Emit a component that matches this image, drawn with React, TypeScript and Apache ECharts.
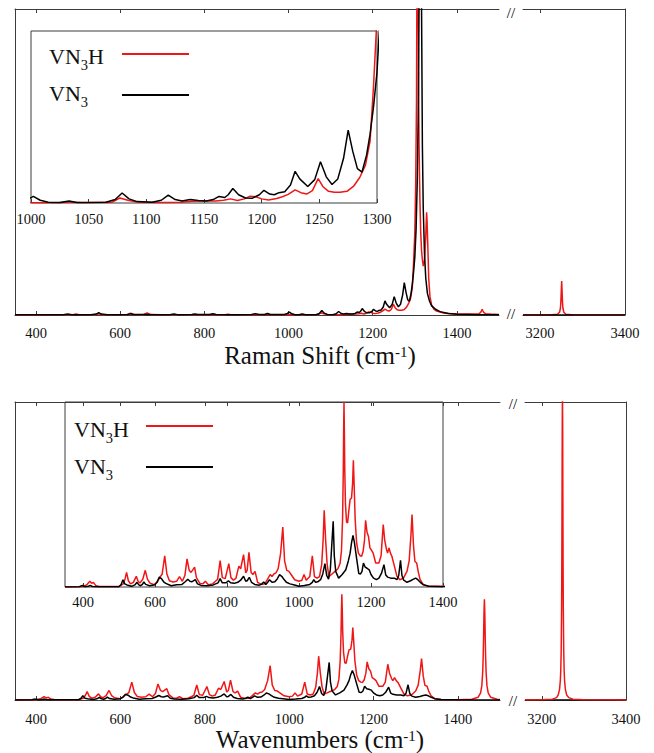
import React, { useEffect, useRef } from 'react';
import * as echarts from 'echarts';

const FONT = 'Liberation Serif, Times New Roman, serif';
const RED = '#f01616';
const BLACK = '#000000';
const AXIS = '#3c3c3c';
const TEXT = '#111111';

// tick labels
const mainTicks = [400, 600, 800, 1000, 1200, 1400];
const highTicks = [3200, 3400];
const ramanInsetTicks = [1000, 1050, 1100, 1150, 1200, 1250, 1300];
const irInsetTicks = [400, 600, 800, 1000, 1200, 1400];

// Raman spectrum, VN3H (red), 350-1500 cm-1
const ramanRed: number[][] = [
  [350, 0.03], [480, 0.05], [488, 0.1], [495, 0.3], [502, 0.1], [540, 0.1], [549, 0.4], [556, 0.1],
  [615, 0.1], [625, 0.55], [633, 0.1], [655, 0.1], [664, 0.65], [672, 0.1], [850, 0.08], [856, 0.25],
  [862, 0.08], [1000, 0.05], [1025, 0.05], [1030, 0.15], [1036, 0.1], [1045, 0.05], [1070, 0.1],
  [1077, 0.73], [1084, 0.4], [1092, 0.15], [1110, 0.08], [1130, 0.1], [1140, 0.25], [1150, 0.3],
  [1160, 0.3], [1167, 0.4], [1173, 0.6], [1179, 0.35], [1185, 0.6], [1190, 1.0], [1195, 0.9],
  [1200, 0.6], [1206, 0.45], [1213, 0.65], [1218, 0.9], [1223, 1.25], [1229, 1.9], [1234, 1.5],
  [1239, 1.3], [1244, 1.8], [1249, 3.55], [1253, 2.4], [1258, 1.7], [1263, 1.55], [1268, 1.55],
  [1274, 1.7], [1280, 2.5], [1285, 3.7], [1290, 5.5], [1294, 9], [1297, 17], [1300, 27], [1302, 42],
  [1304, 70], [1305, 110], [1306, 150], [1307, 135], [1308, 100], [1309, 75], [1310, 56], [1312, 38],
  [1314, 27], [1316, 21], [1318, 18], [1320, 16], [1322, 17], [1324, 20], [1326, 26], [1327, 30],
  [1328, 33.6], [1329, 31], [1331, 22], [1333, 12], [1336, 6], [1340, 3.2], [1345, 2], [1350, 1.4],
  [1370, 0.6], [1400, 0.3], [1440, 0.3], [1452, 0.45], [1456, 0.8], [1458, 1.3], [1460, 1.85],
  [1462, 1.3], [1464, 0.8], [1468, 0.45], [1480, 0.3], [1500, 0.2],
];

// Raman spectrum, VN3 (black), 350-1500 cm-1
const ramanBlack: number[][] = [
  [350, 0.05], [400, 0.05], [465, 0.08], [475, 0.3], [485, 0.08], [530, 0.1], [543, 0.3], [549, 0.75],
  [555, 0.3], [570, 0.1], [600, 0.1], [618, 0.2], [625, 0.4], [632, 0.15], [660, 0.15], [700, 0.1],
  [720, 0.15], [728, 0.3], [736, 0.12], [770, 0.15], [777, 0.35], [785, 0.15], [812, 0.15], [820, 0.4],
  [828, 0.15], [870, 0.1], [912, 0.15], [921, 0.45], [930, 0.15], [943, 0.15], [950, 0.5], [957, 0.15],
  [990, 0.2], [997, 0.5], [1002, 0.95], [1008, 0.4], [1015, 0.1], [1025, 0.08], [1033, 0.3], [1040, 0.08],
  [1065, 0.1], [1073, 0.5], [1079, 1.45], [1085, 0.6], [1092, 0.2], [1105, 0.1], [1113, 0.4], [1119, 1.15],
  [1125, 0.5], [1131, 0.3], [1138, 0.5], [1145, 0.35], [1152, 0.3], [1158, 0.5], [1163, 0.95], [1168, 0.8],
  [1171, 1.2], [1175, 2.1], [1180, 1.2], [1186, 0.72], [1192, 0.7], [1198, 1.2], [1202, 1.85], [1207, 1.3],
  [1211, 1.2], [1215, 1.5], [1220, 1.65], [1225, 2.6], [1229, 4.6], [1233, 3.5], [1240, 2.4], [1246, 3.4],
  [1251, 6.0], [1256, 3.8], [1261, 2.7], [1266, 3.5], [1271, 6.5], [1275, 10.6], [1279, 7.5], [1283, 5.0],
  [1287, 4.5], [1291, 7], [1294, 10], [1297, 14], [1300, 19], [1303, 28], [1306, 45], [1308, 65],
  [1310, 100], [1311, 125], [1312, 150], [1313, 165], [1314, 150], [1315, 125], [1316, 100], [1318, 55],
  [1320, 35], [1323, 20], [1326, 12], [1330, 7], [1335, 4.5], [1340, 3], [1350, 1.8], [1360, 1.1],
  [1380, 0.5], [1400, 0.25], [1450, 0.12], [1500, 0.08],
];

// Raman, 3160-3400 cm-1
const ramanRedHigh: number[][] = [
  [3160, 0.01], [3220, 0.03], [3241, 0.24], [3246, 0.9], [3248, 2.2], [3249, 4.0], [3250, 7.7],
  [3251, 11.1], [3252, 7.7], [3253, 4.0], [3254, 2.2], [3256, 0.9], [3261, 0.24], [3281, 0.03], [3400, 0.01],
];
const ramanBlackHigh: number[][] = [[3160, 0], [3400, 0]];

// IR spectrum, VN3H (red), 350-1500 cm-1
const irRed: number[][] = [
  [350, 0.05], [400, 0.1], [410, 0.4], [419, 1.1], [424, 0.7], [429, 0.9], [435, 0.3], [445, 0.1],
  [500, 0.1], [512, 0.6], [517, 1.6], [521, 2.8], [526, 1.2], [532, 0.6], [540, 0.9], [548, 2.05],
  [553, 1.1], [558, 0.75], [566, 1.5], [573, 3.2], [579, 1.5], [586, 0.75], [598, 0.45], [606, 0.9],
  [612, 1.7], [620, 2.5], [627, 6.0], [633, 2.5], [640, 1.2], [650, 0.95], [660, 1.1], [668, 2.0],
  [676, 1.1], [683, 2.2], [689, 5.4], [695, 3.2], [700, 2.8], [705, 3.3], [710, 3.8], [715, 1.8],
  [725, 0.65], [733, 0.6], [740, 1.1], [748, 0.45], [760, 0.6], [768, 1.1], [774, 1.5], [781, 5.05],
  [787, 1.8], [795, 1.6], [805, 4.5], [811, 1.8], [818, 1.3], [825, 1.7], [830, 3.2], [833, 4.0],
  [838, 3.5], [846, 6.2], [852, 2.7], [856, 3.2], [861, 6.65], [867, 2.8], [872, 2.4], [878, 3.0],
  [885, 0.9], [895, 0.5], [905, 0.6], [912, 1.4], [920, 2.4], [925, 2.0], [930, 2.5], [936, 2.7],
  [942, 3.5], [949, 6.5], [955, 11.5], [960, 5.0], [966, 3.2], [972, 3.0], [978, 2.4], [988, 1.4],
  [1000, 1.1], [1008, 1.3], [1014, 2.4], [1020, 1.3], [1030, 2.0], [1037, 6.0], [1043, 2.0], [1050, 1.7],
  [1057, 2.0], [1063, 4.3], [1067, 9], [1070, 14.7], [1074, 9], [1078, 4.5], [1083, 2.0], [1090, 2.4],
  [1100, 3.0], [1108, 3.5], [1114, 4.5], [1118, 7], [1121, 13], [1123, 22], [1124, 30], [1125, 35.5],
  [1126, 30], [1127, 23], [1129, 16], [1132, 12.5], [1135, 12.3], [1139, 15], [1142, 16.8], [1146, 17.1],
  [1149, 20], [1151, 24.3], [1153, 20], [1156, 13], [1160, 8.5], [1165, 6.5], [1170, 6.0], [1174, 5.9],
  [1178, 6.8], [1182, 9], [1185, 12.8], [1189, 10.5], [1193, 9.7], [1197, 7.5], [1202, 7], [1206, 6.5],
  [1213, 4.6], [1222, 4.6], [1228, 6], [1231, 9], [1234, 12.0], [1238, 9], [1243, 7.2], [1246, 6.5],
  [1250, 7.5], [1254, 6.5], [1258, 5.9], [1265, 4.0], [1272, 2.05], [1280, 1.4], [1290, 1.7], [1300, 3.0],
  [1306, 5], [1311, 10], [1314, 13.9], [1318, 8], [1322, 4.9], [1327, 4.6], [1331, 3], [1336, 1.5],
  [1345, 0.45], [1360, 0.15], [1400, 0.12], [1433, 0.23], [1448, 0.9], [1454, 2.4], [1457, 4.9],
  [1459, 9.5], [1460, 13.9], [1461, 20.6], [1462, 29], [1463, 33.8], [1464, 29], [1465, 20.6],
  [1466, 13.9], [1467, 9.5], [1469, 4.9], [1472, 2.4], [1478, 0.9], [1493, 0.23], [1500, 0.18],
];

// IR spectrum, VN3 (black), 350-1500 cm-1
const irBlack: number[][] = [
  [350, 0], [390, 0.05], [398, 0.3], [405, 0.05], [415, 0.15], [420, 0.3], [426, 0.1], [440, 0.05],
  [500, 0.05], [506, 0.5], [511, 1.4], [516, 0.6], [522, 0.4], [535, 0.13], [544, 0.4], [550, 0.9],
  [555, 0.4], [560, 0.25], [565, 0.5], [569, 0.96], [574, 0.5], [585, 0.25], [600, 0.45], [606, 1.0],
  [612, 1.9], [618, 1.6], [624, 1.0], [630, 0.7], [645, 0.25], [660, 0.45], [675, 0.5], [684, 1.0],
  [691, 1.5], [697, 1.1], [702, 1.0], [712, 1.4], [718, 0.6], [728, 0.3], [745, 0.25], [762, 0.4],
  [775, 0.8], [781, 1.6], [787, 0.8], [797, 0.8], [804, 1.2], [810, 0.8], [820, 0.7], [830, 0.9],
  [838, 1.3], [846, 2.05], [852, 1.1], [856, 1.2], [862, 1.86], [868, 0.9], [877, 0.5], [890, 0.35],
  [897, 0.6], [902, 0.96], [908, 0.5], [913, 0.9], [918, 1.4], [925, 0.9], [933, 1.0], [940, 1.6],
  [946, 2.37], [952, 2.05], [958, 1.5], [965, 0.9], [975, 0.6], [985, 0.45], [1000, 0.15], [1015, 0.3],
  [1030, 0.5], [1037, 0.9], [1041, 1.4], [1046, 0.9], [1052, 1.0], [1060, 1.4], [1066, 2.5], [1072, 4.5],
  [1077, 2.2], [1082, 1.5], [1087, 3.3], [1091, 8], [1095, 12.6], [1098, 6], [1102, 3.0], [1110, 1.7],
  [1120, 2.4], [1130, 3.3], [1137, 5], [1142, 6.5], [1146, 8.5], [1150, 9.9], [1154, 8.5], [1160, 5.5],
  [1166, 2.6], [1171, 2.5], [1175, 3.0], [1179, 4.6], [1184, 3.8], [1189, 3.6], [1195, 3.3], [1200, 2.4],
  [1207, 1.7], [1215, 1.4], [1222, 1.7], [1229, 2.6], [1236, 4.3], [1241, 2.3], [1246, 1.9], [1255, 1.7],
  [1265, 1.7], [1272, 1.4], [1277, 2.2], [1282, 5.1], [1286, 2.2], [1291, 1.3], [1300, 0.9], [1310, 1.2],
  [1318, 1.5], [1324, 1.7], [1330, 1.4], [1337, 0.9], [1345, 0.45], [1360, 0.13], [1400, 0.05], [1500, 0.02],
];

// IR, 3160-3400 cm-1
const irRedHigh: number[][] = [
  [3160, 0.02], [3200, 0.07], [3225, 0.28], [3235, 0.8], [3239, 1.7], [3242, 3.5], [3244, 6.6],
  [3245, 10], [3246, 16.6], [3247, 31], [3247.5, 45], [3248, 66], [3248.5, 91], [3249, 105],
  [3249.5, 91], [3250, 66], [3250.5, 45], [3251, 31], [3252, 16.6], [3253, 10], [3254, 6.6],
  [3256, 3.5], [3259, 1.7], [3264, 0.8], [3274, 0.28], [3300, 0.07], [3400, 0.01],
];
const irBlackHigh: number[][] = [[3160, 0], [3400, 0]];

const fmt = (v: number) => String(v);

const xAxis = (
  gridIndex: number, min: number, max: number, ticks: number[],
  position: 'top' | 'bottom', showLabel: boolean, margin: number, showLine = true,
) => ({
  type: 'value', gridIndex, min, max, position,
  axisLine: { show: showLine, onZero: false, lineStyle: { color: AXIS, width: 1 } },
  axisTick: { show: true, inside: true, length: 4, customValues: ticks, lineStyle: { color: AXIS, width: 1 } },
  axisLabel: {
    show: showLabel, customValues: ticks, margin, formatter: fmt,
    fontFamily: FONT, fontSize: 14.5, color: TEXT,
  },
  splitLine: { show: false },
});

const yAxis = (gridIndex: number, max: number, position: 'left' | 'right', showLine: boolean) => ({
  type: 'value', gridIndex, min: 0, max, position,
  axisLine: { show: showLine, onZero: false, lineStyle: { color: AXIS, width: 1 } },
  axisTick: { show: false }, axisLabel: { show: false }, splitLine: { show: false },
});

const line = (name: string, data: number[][], color: string, xAxisIndex: number, yAxisIndex: number) => ({
  type: 'line', name, data, xAxisIndex, yAxisIndex,
  showSymbol: false, symbol: 'none', clip: true, silent: true,
  lineStyle: { color, width: 1.5 }, itemStyle: { color },
});

const legendText = (x: number, y: number, text: string) => ({
  type: 'text', x, y, silent: true,
  style: {
    text, fontSize: 22, fontFamily: FONT, fill: TEXT, lineHeight: 32,
    align: 'left', verticalAlign: 'middle',
    rich: { s: { fontSize: 14.5, lineHeight: 14, verticalAlign: 'bottom', fontFamily: FONT, fill: TEXT } },
  },
});

const legendLine = (x1: number, x2: number, y: number, color: string) => ({
  type: 'line', silent: true, shape: { x1, y1: y, x2, y2: y }, style: { stroke: color, lineWidth: 2 },
});

const axisTitle = (y: number, text: string) => ({
  type: 'text', x: 320, y, silent: true,
  style: {
    text, fontSize: 25, fontFamily: FONT, fill: TEXT, lineHeight: 22,
    align: 'center', verticalAlign: 'middle',
    rich: { p: { fontSize: 15, lineHeight: 2, verticalAlign: 'top', fontFamily: FONT, fill: TEXT } },
  },
});

const breakMark = (x: number, y: number) => ({
  type: 'text', x, y, silent: true,
  style: { text: '//', fontSize: 15, fontFamily: FONT, fill: '#000000', align: 'center', verticalAlign: 'middle' },
});

export default function App() {
  const ref = useRef<HTMLDivElement>(null);
  useEffect(() => {
    if (!ref.current) return;
    const chart = echarts.init(ref.current, null, { renderer: 'svg' });
    const gridBase = { containLabel: false, outerBoundsMode: 'none' };
    const option: any = {
      animation: false,
      backgroundColor: '#ffffff',
      grid: [
        { ...gridBase, left: 15, top: 9, width: 484, height: 306 },
        { ...gridBase, left: 523, top: 9, width: 102, height: 306 },
        { ...gridBase, left: 31, top: 31, width: 346, height: 172, show: true, borderColor: AXIS, borderWidth: 1, backgroundColor: 'rgba(0,0,0,0)' },
        { ...gridBase, left: 15, top: 402, width: 485, height: 298 },
        { ...gridBase, left: 525, top: 402, width: 101, height: 298 },
        { ...gridBase, left: 65, top: 402, width: 378, height: 185, show: true, borderColor: AXIS, borderWidth: 1, backgroundColor: 'rgba(0,0,0,0)' },
      ],
      xAxis: [
        xAxis(0, 350, 1500, mainTicks, 'bottom', true, 10),
        xAxis(0, 350, 1500, mainTicks, 'top', false, 8),
        xAxis(1, 3160, 3400, highTicks, 'bottom', true, 10),
        xAxis(1, 3160, 3400, highTicks, 'top', false, 8),
        xAxis(2, 1000, 1300, ramanInsetTicks, 'bottom', true, 8, false),
        xAxis(3, 350, 1500, mainTicks, 'bottom', true, 11),
        xAxis(3, 350, 1500, mainTicks, 'top', false, 8),
        xAxis(4, 3160, 3400, highTicks, 'bottom', true, 11),
        xAxis(4, 3160, 3400, highTicks, 'top', false, 8),
        xAxis(5, 350, 1400, irInsetTicks, 'bottom', true, 7.5, false),
        xAxis(5, 350, 1400, irInsetTicks, 'top', false, 8, false),
      ],
      yAxis: [
        yAxis(0, 100, 'left', true),
        yAxis(1, 100, 'right', true),
        yAxis(2, 25, 'left', false),
        yAxis(3, 100, 'left', true),
        yAxis(4, 100, 'right', true),
        yAxis(5, 35.5, 'left', false),
      ],
      series: [
        line('VN3H Raman', ramanRed, RED, 0, 0),
        line('VN3 Raman', ramanBlack, BLACK, 0, 0),
        line('VN3H Raman high', ramanRedHigh, RED, 2, 1),
        line('VN3 Raman high', ramanBlackHigh, BLACK, 2, 1),
        line('VN3H Raman inset', ramanRed, RED, 4, 2),
        line('VN3 Raman inset', ramanBlack, BLACK, 4, 2),
        line('VN3H IR', irRed, RED, 5, 3),
        line('VN3 IR', irBlack, BLACK, 5, 3),
        line('VN3 IR high', irBlackHigh, BLACK, 7, 4),
        line('VN3H IR high', irRedHigh, RED, 7, 4),
        line('VN3H IR inset', irRed, RED, 9, 5),
        line('VN3 IR inset', irBlack, BLACK, 9, 5),
      ],
      graphic: [
        axisTitle(355, 'Raman Shift (cm{p|-1})'),
        axisTitle(739, 'Wavenumbers (cm{p|-1})'),
        legendText(49, 56, 'VN{s|3}H'),
        legendText(49, 93, 'VN{s|3}'),
        legendLine(122, 189, 54, RED),
        legendLine(122, 189, 95, BLACK),
        legendText(74, 429, 'VN{s|3}H'),
        legendText(74, 466, 'VN{s|3}'),
        legendLine(146, 213, 426, RED),
        legendLine(146, 213, 467, BLACK),
        breakMark(511, 13),
        breakMark(511, 314),
        breakMark(513, 404),
        breakMark(513, 701),
      ],
    };
    chart.setOption(option);
    return () => chart.dispose();
  }, []);
  return (
    <div
      ref={ref}
      style={{ position: 'fixed', left: 0, top: 0, width: 654, height: 753, background: '#ffffff' }}
    />
  );
}
